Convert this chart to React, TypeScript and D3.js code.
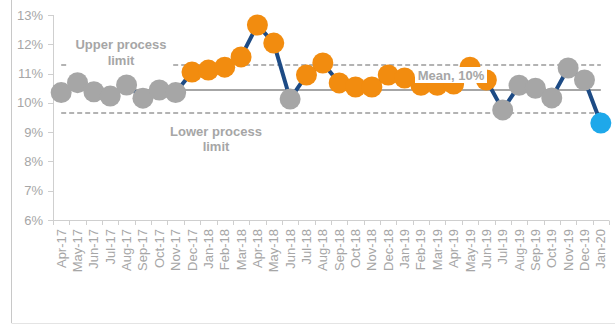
import React from "react";
import * as d3 from "d3";

const months = [
  "Apr-17","May-17","Jun-17","Jul-17","Aug-17","Sep-17","Oct-17","Nov-17","Dec-17","Jan-18",
  "Feb-18","Mar-18","Apr-18","May-18","Jun-18","Jul-18","Aug-18","Sep-18","Oct-18","Nov-18",
  "Dec-18","Jan-19","Feb-19","Mar-19","Apr-19","May-19","Jun-19","Jul-19","Aug-19","Sep-19",
  "Oct-19","Nov-19","Dec-19","Jan-20",
];
const values = [
  10.35,10.69,10.38,10.23,10.61,10.16,10.44,10.35,11.05,11.12,
  11.22,11.57,12.66,12.04,10.13,10.95,11.36,10.68,10.54,10.54,
  10.95,10.85,10.6,10.6,10.64,11.22,10.78,9.76,10.6,10.5,
  10.17,11.19,10.78,9.31,
];
const status = [
  "n","n","n","n","n","n","n","n","h","h",
  "h","h","h","h","n","h","h","h","h","h",
  "h","h","h","h","h","h","h","n","n","n",
  "n","n","n","l",
];
const mean = 10.44;
const upper = 11.29;
const lower = 9.65;
const yTicks = [6, 7, 8, 9, 10, 11, 12, 13];

const colors: Record<string, string> = { n: "#a6a6a6", h: "#f28c0f", l: "#1ea8ea" };
const textGrey = "#a6a6a6";
const font = "'Liberation Sans', Arial, sans-serif";

export default function App() {
  const W = 615, H = 325;
  const x = d3.scaleBand<string>().domain(months).range([53, 609]).padding(0);
  const y = d3.scaleLinear().domain([6, 13]).range([220, 15]);
  const cx = (m: string) => (x(m) as number) + x.bandwidth() / 2;
  const line = d3.line<number>().x((_, i) => cx(months[i])).y((v) => y(v));
  const x0 = cx(months[0]);
  const x1 = cx(months[months.length - 1]);
  const boundaries = months.map((m) => x(m) as number).concat([609]);

  return (
    <svg width={W} height={H} style={{ position: "absolute", left: 0, top: 0, background: "#fff" }} fontFamily={font}>
      <rect x={0} y={0} width={W} height={H} fill="#fff" />
      {/* frame */}
      <line x1={11.5} x2={11.5} y1={0} y2={323} stroke="#c8c8c8" strokeWidth={1} />
      <line x1={11.5} x2={W} y1={323.5} y2={323.5} stroke="#e4e4e4" strokeWidth={1} />
      {/* y axis */}
      <line x1={53.5} x2={53.5} y1={y(13)} y2={y(6)} stroke="#cfcfcf" strokeWidth={1} />
      {yTicks.map((t) => (
        <g key={t}>
          <line x1={48} x2={53.5} y1={Math.round(y(t)) + 0.5} y2={Math.round(y(t)) + 0.5} stroke="#cfcfcf" />
          <text x={43} y={y(t)} dy="0.35em" textAnchor="end" fontSize={13} fill={textGrey}>{t}%</text>
        </g>
      ))}
      {/* x axis */}
      <line x1={53} x2={609} y1={220.5} y2={220.5} stroke="#cfcfcf" strokeWidth={1} />
      {boundaries.map((b, i) => (
        <line key={i} x1={Math.round(b) + 0.5} x2={Math.round(b) + 0.5} y1={220.5} y2={225} stroke="#cfcfcf" />
      ))}
      {months.map((m) => (
        <text key={m} transform={`translate(${cx(m) + 4.5},229) rotate(-90)`} textAnchor="end" fontSize={13} fill={textGrey}>{m}</text>
      ))}
      {/* reference lines */}
      <line x1={x0} x2={x1} y1={y(mean)} y2={y(mean)} stroke="#a6a6a6" strokeWidth={2} />
      <line x1={x0} x2={x1} y1={y(upper)} y2={y(upper)} stroke="#9a9a9a" strokeWidth={1.5} strokeDasharray="5,3" />
      <line x1={x0} x2={x1} y1={y(lower)} y2={y(lower)} stroke="#9a9a9a" strokeWidth={1.5} strokeDasharray="5,3" />
      {/* upper label */}
      <rect x={67} y={36} width={106} height={33} fill="#fff" />
      <text x={121} y={49} textAnchor="middle" fontSize={13} fontWeight="bold" fill={textGrey}>Upper process</text>
      <text x={121} y={65} textAnchor="middle" fontSize={13} fontWeight="bold" fill={textGrey}>limit</text>
      {/* lower label */}
      <text x={216} y={136} textAnchor="middle" fontSize={13} fontWeight="bold" fill={textGrey}>Lower process</text>
      <text x={216} y={151} textAnchor="middle" fontSize={13} fontWeight="bold" fill={textGrey}>limit</text>
      {/* series */}
      <path d={line(values) as string} fill="none" stroke="#1d4b85" strokeWidth={4} strokeLinejoin="round" />
      {values.map((v, i) => (
        <circle key={i} cx={cx(months[i])} cy={y(v)} r={10.5} fill={colors[status[i]]} />
      ))}
      {/* mean label */}
      <rect x={415} y={67} width={72} height={16} fill="#fff" />
      <text x={451} y={79.5} textAnchor="middle" fontSize={13} fontWeight="bold" fill={textGrey}>Mean, 10%</text>
    </svg>
  );
}
